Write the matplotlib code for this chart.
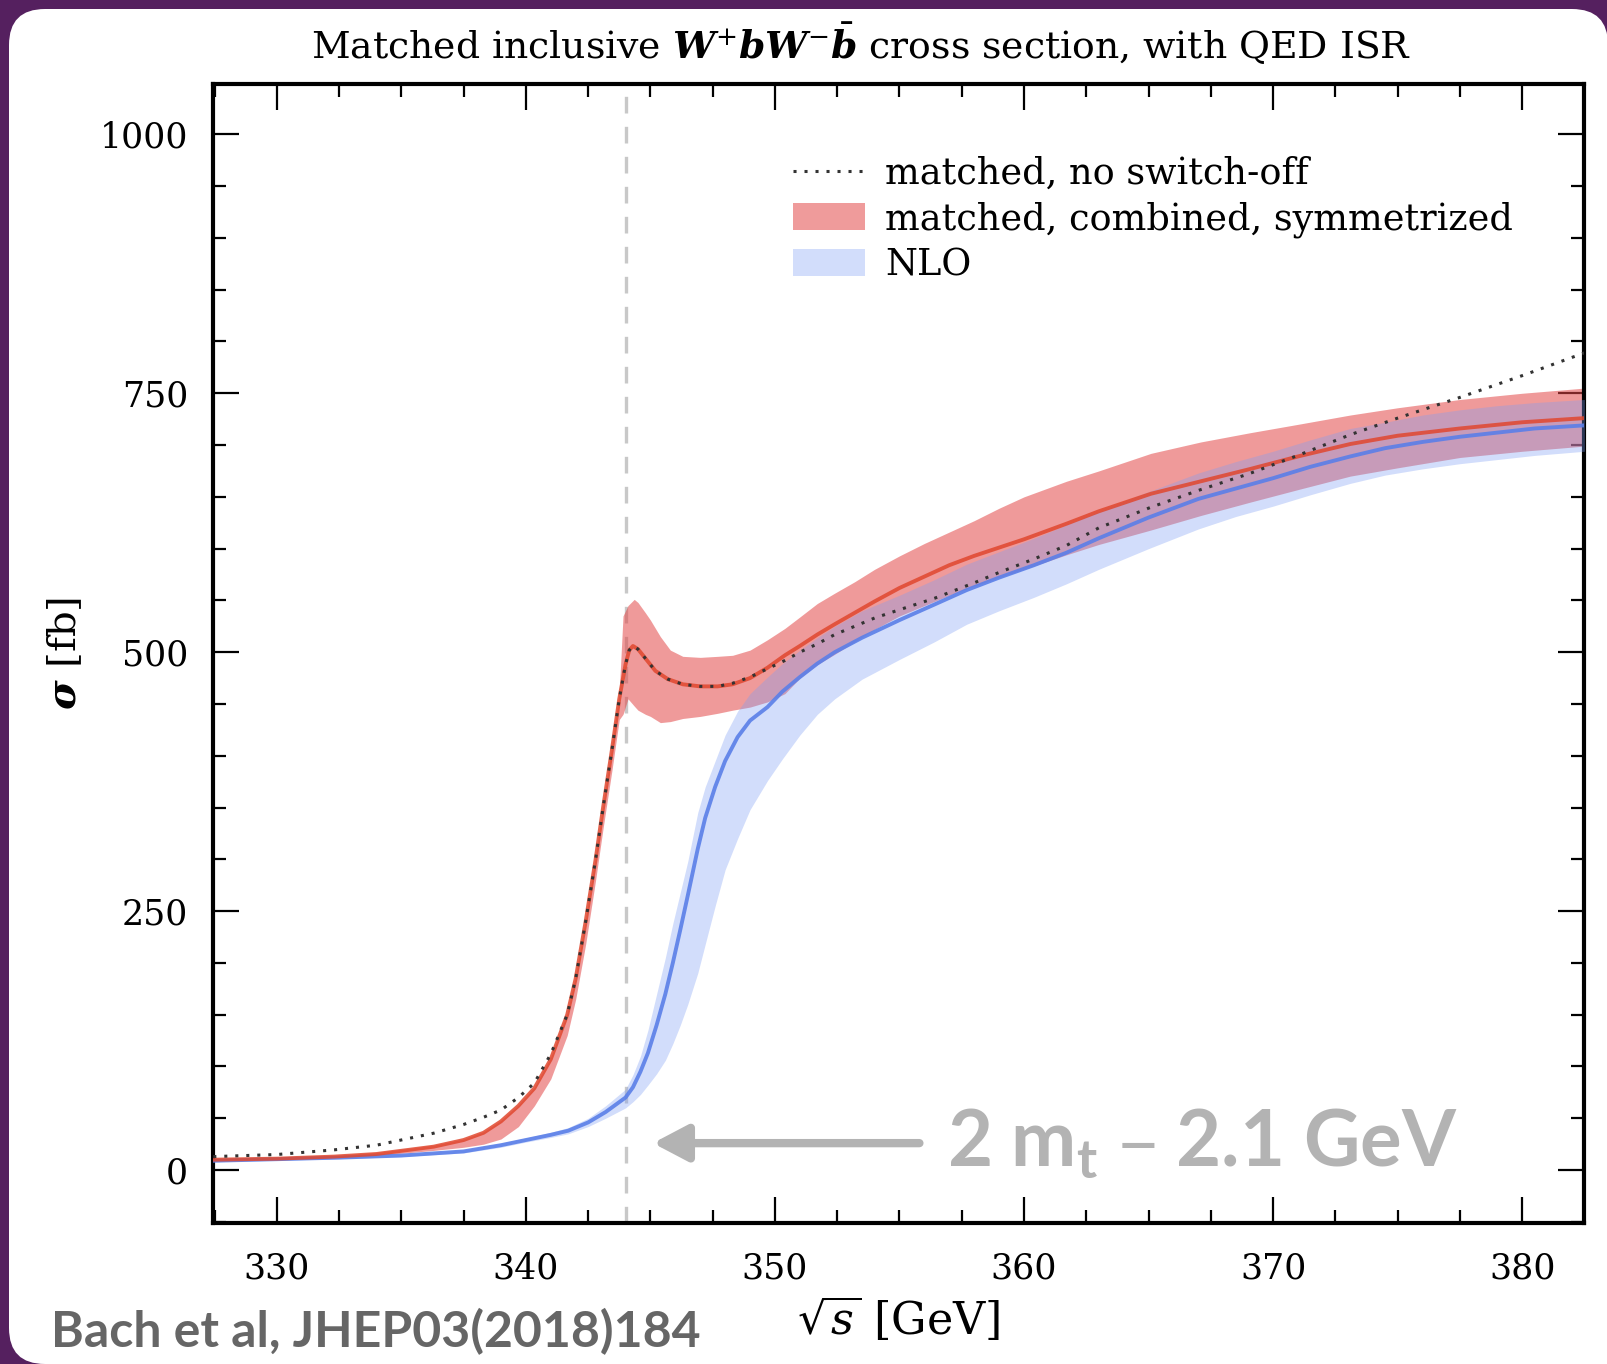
import matplotlib
matplotlib.use("Agg")
import matplotlib.pyplot as plt
from matplotlib.patches import FancyBboxPatch, Rectangle, Patch
from matplotlib.lines import Line2D
from matplotlib.ticker import MultipleLocator, FixedLocator
from matplotlib.transforms import IdentityTransform

plt.rcParams["font.family"] = ["DejaVu Serif"]
plt.rcParams["mathtext.fontset"] = "dejavuserif"

# matched, combined, symmetrized: central curve
red_x = [327.45, 330, 332.3, 334, 336.3, 337.5, 338.3, 339, 339.7, 340.34,
         341, 341.66, 342, 342.4, 342.8, 343.1, 343.45, 343.75, 344, 344.15,
         344.3, 344.5, 344.8, 345.2, 345.7, 346.3, 347, 347.7, 348.3, 349,
         349.7, 350.4, 351, 351.7, 352.4, 353.2, 354, 355, 356, 357,
         358, 359, 360, 361.7, 363, 365.1, 367.1, 369.1, 371, 373.1,
         375, 377.5, 380, 382.5]
red_mid = [10, 11, 13, 15.5, 22.6, 29, 36, 47, 62, 79,
           107, 150, 185, 240, 300, 350, 405, 455, 488, 502,
           506, 503, 494, 482, 474, 469, 467, 467, 469, 475,
           485, 497, 506, 517, 527, 538, 549, 562, 573, 584,
           593, 601, 609, 624, 636, 653, 665, 677, 689, 701,
           709, 716, 722, 726]

# matched, combined, symmetrized: uncertainty band
band_x = [327.45, 330, 332.3, 334, 336.3, 337.5, 338.3, 339, 339.7, 340.34,
          341, 341.66, 342, 342.4, 342.8, 343.1, 343.45, 343.75, 343.9, 344.1,
          344.35, 344.5, 344.8, 345.0, 345.4, 345.8, 346.3, 347, 347.7, 348.3,
          349, 349.7, 350.4, 351, 351.7, 352.4, 353.2, 354, 355, 356,
          357, 358, 359, 360, 361.7, 363, 365.1, 367.1, 369.1, 371,
          373.1, 375, 377.5, 380, 382.5]
red_lo = [9, 10, 12, 14, 19, 22, 25, 30, 42, 62,
          88, 130, 165, 218, 280, 330, 385, 435, 440, 455,
          448, 444, 440, 438, 432, 433, 436, 438, 441, 444,
          447, 452, 460, 475, 488, 498, 510, 522, 535, 545,
          555, 564, 572, 580, 594, 604, 618, 632, 645, 657,
          670, 678, 688, 694, 699]
red_hi = [11, 12, 14, 17, 24, 30, 37, 48, 63, 80,
          109, 152, 188, 243, 304, 354, 410, 462, 535, 545,
          551, 548, 538, 531, 515, 502, 496, 495, 496, 497,
          502, 512, 523, 534, 547, 557, 568, 580, 593, 605,
          616, 627, 639, 650, 665, 675, 692, 703, 712, 720,
          729, 736, 744, 750, 755]

# NLO: central curve and band
nlo_x = [327.45, 330, 332.5, 335, 337.5, 339, 340, 341, 341.7, 342.5,
         343.2, 344, 344.3, 344.6, 344.9, 345.25, 345.6, 345.9, 346.2, 346.5,
         346.9, 347.2, 347.6, 348, 348.5, 349, 349.7, 350.3, 351, 351.7,
         352.4, 353.5, 355, 356.4, 357.7, 359, 360.4, 361.7, 363, 365,
         367, 368.5, 370, 371.5, 373.1, 374.5, 376, 377.5, 379, 380.5,
         382.5]
nlo_mid = [9, 10.5, 12, 14, 18, 24, 29, 34, 38, 46,
           56, 70, 80, 95, 113, 140, 170, 200, 232, 265,
           310, 340, 370, 395, 418, 434, 447, 462, 476, 489,
           500, 514, 531, 546, 560, 572, 584, 596, 610, 630,
           648, 658, 668, 679, 689, 697, 703, 708, 712, 716,
           719]
nlo_lo = [8, 9.5, 11, 13, 16.5, 22, 27, 31.5, 35, 42,
          50, 60, 66, 73, 82, 93, 106, 122, 140, 160,
          190, 218, 255, 290, 320, 348, 376, 397, 420, 440,
          455, 474, 493, 510, 527, 540, 553, 566, 580, 600,
          619, 631, 641, 652, 663, 671, 677, 682, 686, 690,
          694]
nlo_hi = [10, 11.5, 13, 15, 19.5, 26, 31, 36.5, 41, 50,
          62, 78, 92, 110, 135, 170, 205, 238, 268, 298,
          345, 370, 395, 420, 443, 460, 476, 489, 502, 514,
          525, 540, 555, 570, 585, 597, 610, 623, 636, 655,
          673, 684, 694, 705, 716, 722, 729, 734, 738, 741,
          744]

# matched, no switch-off
nso_x = [327.45, 330, 332.3, 334, 336.3, 337.5, 338.3, 339, 339.7, 340.34,
         341, 341.66, 342, 342.4, 342.8, 343.1, 343.45, 343.75, 344, 344.15,
         344.3, 344.5, 344.8, 345.2, 345.7, 346.3, 347, 347.7, 348.3, 349,
         349.7, 350.4, 351, 351.7, 352.4, 353.2, 354, 355, 356.4, 358,
         359, 360.4, 361.7, 363, 365.1, 367.1, 369, 371, 373.1, 375,
         377.5, 380, 382.5]
nso_y = [13, 15, 19.5, 24, 35.6, 44, 51, 58, 70, 84,
         112, 150, 185, 240, 300, 350, 405, 455, 488, 502,
         506, 503, 494, 482, 474, 469, 467, 467, 470, 476,
         484, 492, 500, 508, 517, 525, 533, 541, 552, 567,
         577, 590, 603, 620, 640, 657, 672, 690, 710, 726,
         746, 767, 789]

threshold = 344.0  # 2 m_t - 2.1 GeV

x_ticks = [330, 340, 350, 360, 370, 380]
y_ticks = [0, 250, 500, 750, 1000]

fig = plt.figure(figsize=(16.08, 13.64), dpi=100, facecolor="#55205f")

# white rounded card on the purple background
card = FancyBboxPatch((9, 0), 1599, 1355, boxstyle="round,pad=0,rounding_size=36",
                      transform=IdentityTransform(), facecolor="white", edgecolor="none",
                      zorder=-10)
fig.patches.append(card)
fig.patches.append(Rectangle((1500, 0), 108, 100, transform=IdentityTransform(),
                             facecolor="white", edgecolor="none", zorder=-10))

ax = fig.add_axes([213.3 / 1608, 1 - 1223.4 / 1364, (1584.4 - 213.3) / 1608, (1223.4 - 84.1) / 1364])
ax.set_facecolor("white")

ax.fill_between(band_x, red_lo, red_hi, color="#e34848", alpha=0.55, lw=0, zorder=2)
ax.fill_between(nlo_x, nlo_lo, nlo_hi, color="#7e9ef4", alpha=0.35, lw=0, zorder=3)
ax.axvline(threshold, color="#c8c8c8", lw=2.4, ls=(0, (5, 4)), zorder=1)
ax.plot(nlo_x, nlo_mid, color="#5a7fe8", lw=2.8, alpha=0.9, zorder=4,
        solid_joinstyle="round")
ax.plot(red_x, red_mid, color="#e0472e", lw=2.8, alpha=0.85, zorder=5,
        solid_joinstyle="round")
ax.plot(nso_x, nso_y, color="#333333", lw=2.2, ls=(0, (1, 2.6)), zorder=6)

ax.annotate("", xy=(345.1, 26), xytext=(355.8, 26),
            arrowprops=dict(arrowstyle="-|>,head_length=0.95,head_width=0.5",
                            lw=6, color="#b3b3b3", mutation_scale=22,
                            shrinkA=0, shrinkB=0))
ax.text(356.9, 26, "2 m$_\\mathregular{t}$ – 2.1 GeV", color="#b3b3b3",
        fontsize=56, family="Lato", weight="bold", va="center", ha="left")

ax.set_xlim(327.45, 382.5)
ax.set_ylim(-51.5, 1048.5)
ax.xaxis.set_major_locator(FixedLocator(x_ticks))
ax.yaxis.set_major_locator(FixedLocator(y_ticks))
ax.xaxis.set_minor_locator(MultipleLocator(2.5))
ax.yaxis.set_minor_locator(MultipleLocator(50))
ax.tick_params(which="both", direction="in", top=True, right=True, width=1.6)
ax.tick_params(which="major", length=19, labelsize=25)
ax.tick_params(which="minor", length=9.5)
ax.tick_params(axis="x", pad=20)
ax.tick_params(axis="y", pad=18)
for sp in ax.spines.values():
    sp.set_linewidth(3)

ax.set_xlabel(r"$\sqrt{s}$ [GeV]", fontsize=32, labelpad=7)
ax.set_ylabel(r"$\mathbfit{\sigma}$ [fb]", fontsize=29, labelpad=11)

handles = [
    Line2D([], [], color="#333333", lw=2.2, ls=(0, (1, 2.6))),
    Patch(facecolor="#ef9b9b", edgecolor="none"),
    Patch(facecolor="#d2ddfb", edgecolor="none"),
]
labels = ["matched, no switch-off", "matched, combined, symmetrized", "NLO"]
ax.legend(handles, labels, loc="upper left", bbox_to_anchor=(0.423, 0.937),
          frameon=False, fontsize=26.4, handlelength=1.95, handleheight=0.75,
          handletextpad=0.55, labelspacing=0.26, borderpad=0, borderaxespad=0)

fig.text(861 / 1608, 1 - 44 / 1364,
         r"Matched inclusive $\mathbfit{W}^{+}\mathbfit{b}\mathbfit{W}^{-}\bar{\mathbfit{b}}$"
         r" cross section, with QED ISR",
         ha="center", va="center", fontsize=27.2)

fig.text(51 / 1608, 1 - 1347 / 1364, "Bach et al, JHEP03(2018)184", color="#666666",
         fontsize=36, family="Lato", weight="bold", ha="left", va="baseline")

fig.savefig("out.png", dpi=100, facecolor=fig.get_facecolor())
